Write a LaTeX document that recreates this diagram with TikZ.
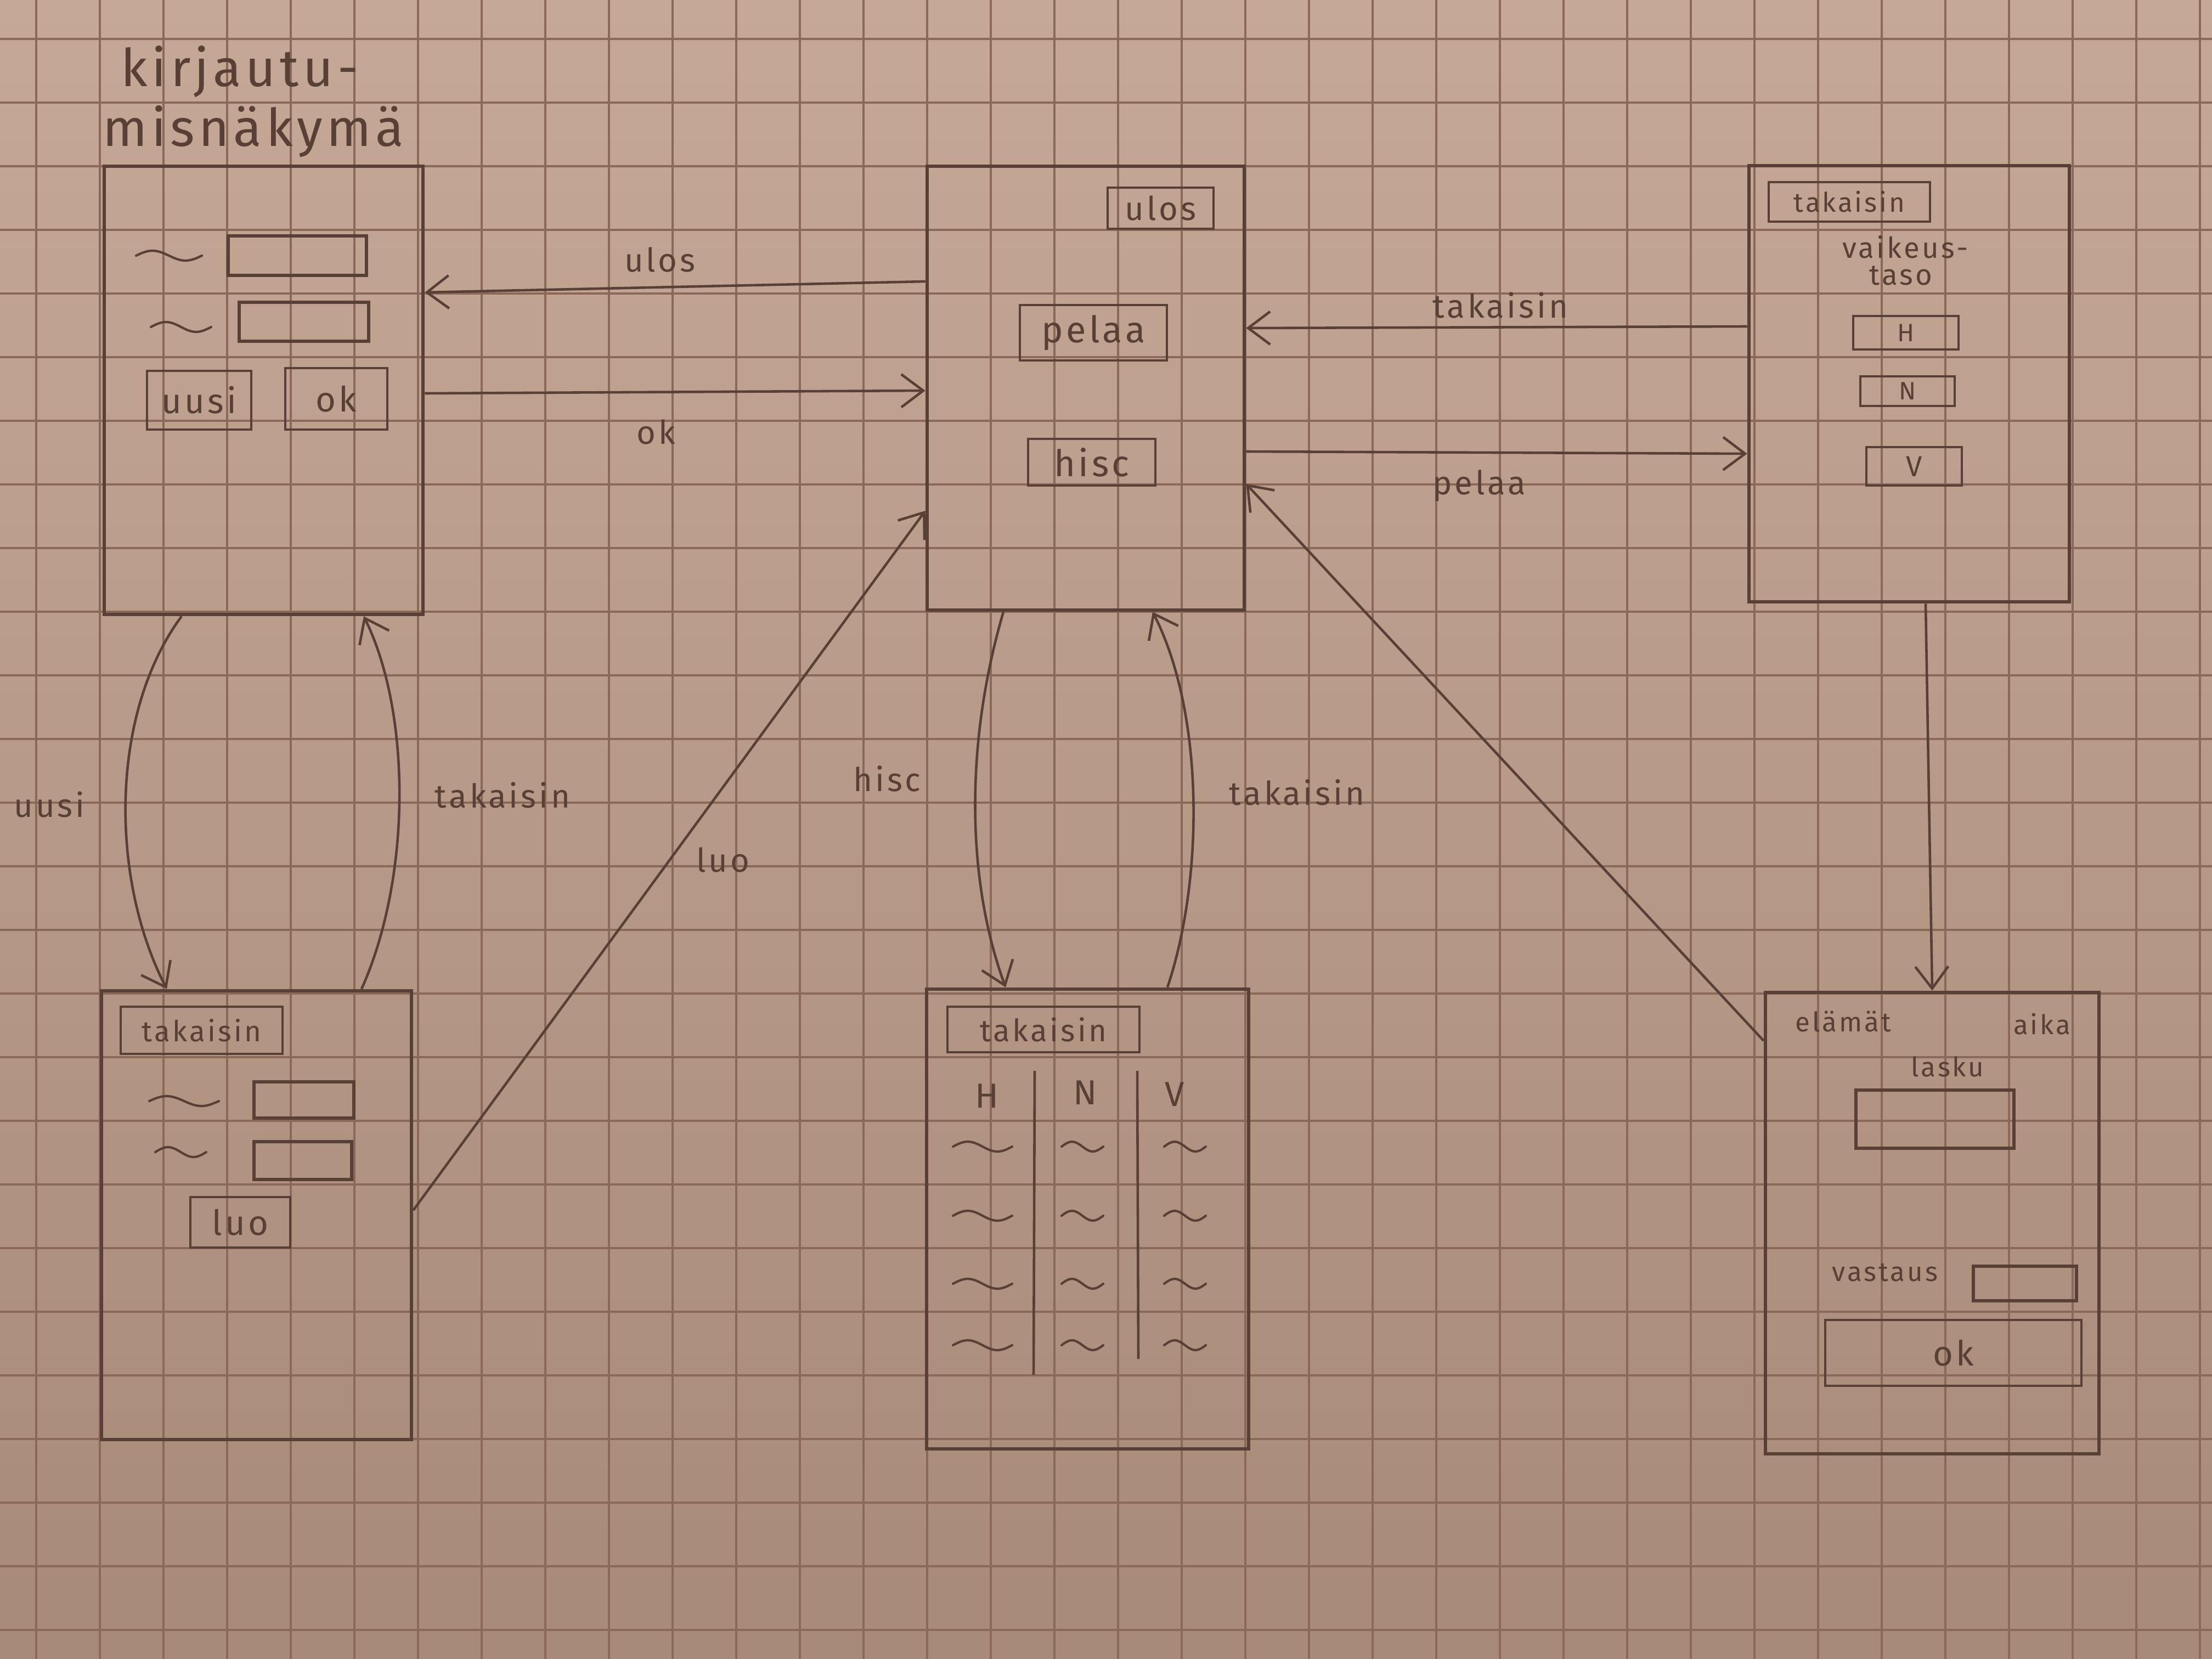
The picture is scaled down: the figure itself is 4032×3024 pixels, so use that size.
\documentclass[tikz,border=0pt]{standalone}
\usepackage{fontspec}
\setmainfont{Fira Sans}[LetterSpace=8]
\usetikzlibrary{arrows.meta,calc}

\definecolor{paperA}{RGB}{198,168,150}
\definecolor{paperB}{RGB}{168,138,120}
\definecolor{gridc}{RGB}{138,105,89}
\definecolor{ink}{RGB}{88,64,54}

\tikzset{
  sz/.style 2 args={minimum width=#1*0.01cm, minimum height=#2*0.01cm},
  fs/.style={font=\fontsize{#1}{#1}\selectfont},
  screen/.style={draw=ink, line width=1.9pt, inner sep=0pt},
  btn/.style={draw=ink, line width=1.3pt, inner sep=0pt, text=ink, fs=16},
  field/.style={draw=ink, line width=1.5pt, inner sep=0pt},
  lbl/.style={text=ink, inner sep=1pt, fs=17},
  txt/.style={text=ink, inner sep=1pt, fs=15},
  conn/.style={draw=ink, line width=1.3pt},
  arr/.style={conn, -{Straight Barb[length=4mm,width=6mm]}},
  squig/.style={draw=ink, line width=1.2pt, line cap=round},
  gridline/.style={draw=gridc, line width=1pt},
}

% a hand-drawn placeholder squiggle: left end x, y, width
\newcommand{\wiggle}[3]{%
  \draw[squig] (#1,#2) sin ++({#3/4},-9) cos ++({#3/4},9) sin ++({#3/4},9) cos ++({#3/4},-9);}

\begin{document}
\begin{tikzpicture}[x=0.01cm, y=-0.01cm]
\useasboundingbox (0,0) rectangle (4032,3024);

% squared paper
\shade[top color=paperA, bottom color=paperB] (0,0) rectangle (4032,3024);
\foreach \i in {0,...,34} \draw[gridline] ({66+116*\i},0) -- ({66+116*\i},3024);
\foreach \j in {0,...,25} \draw[gridline] (0,{71+116*\j}) -- (4032,{71+116*\j});

% ---------- login view ----------
\node[text=ink, align=left, inner sep=0pt,
      font=\fontsize{27}{31}\selectfont] (title) at (462,185)
      {\hspace*{0.35em}kirjautu-\\misnäkymä};
\node[screen, sz={581}{817}] (login) at (480.5,711.5) {};
\wiggle{248}{466}{120}
\node[field, sz={252}{72}] (lf1) at (542,466) {};
\wiggle{275}{596}{110}
\node[field, sz={236}{71}] (lf2) at (554,586.5) {};
\node[btn, sz={190}{107}, fs=18] (luusi) at (363,729.5) {uusi};
\node[btn, sz={186}{112}, fs=18] (lok) at (613,727) {ok};

% ---------- main menu ----------
\node[screen, sz={578}{809}] (mid) at (1979,707.5) {};
\node[btn, sz={193}{75}, fs=17] (mulos) at (2115.5,379.5) {ulos};
\node[btn, sz={268}{101}, fs=19] (mpelaa) at (1993,606.5) {pelaa};
\node[btn, sz={232}{85}, fs=19] (mhisc) at (1990,842.5) {hisc};

% ---------- difficulty view ----------
\node[screen, sz={584}{795}] (diff) at (3480,699.5) {};
\node[btn, sz={294}{72}, fs=14] (dback) at (3371,368) {takaisin};
\node[txt] (dt1) at (3473,450) {vaikeus-};
\node[txt] (dt2) at (3465,502) {taso};
\node[btn, sz={192}{61}, fs=13] (dh) at (3474,606.5) {H};
\node[btn, sz={172}{54}, fs=13] (dn) at (3477,713) {N};
\node[btn, sz={174}{70}, fs=15] (dv) at (3489,850) {V};

% ---------- registration view ----------
\node[screen, sz={565}{818}] (reg) at (467.5,2215) {};
\node[btn, sz={295}{86}, fs=15] (rback) at (367.5,1878) {takaisin};
\wiggle{272}{2007}{127}
\node[field, sz={182}{66}] (rf1) at (554,2005) {};
\wiggle{283}{2100}{93}
\node[field, sz={178}{69}] (rf2) at (552,2115.5) {};
\node[btn, sz={182}{92}, fs=18] (rluo) at (438,2228) {luo};

% ---------- high score view ----------
\node[screen, sz={587}{838}] (hs) at (1982.5,2222) {};
\node[btn, sz={350}{83}, fs=16] (hback) at (1902,1876.5) {takaisin};
\node[txt, fs=18] (hh) at (1799,1998) {H};
\node[txt, fs=18] (hn) at (1978,1992) {N};
\node[txt, fs=18] (hv) at (2141,1995) {V};
\draw[conn] (1886,1952) -- (1884,2506);
\draw[conn] (2073,1952) -- (2075,2477);
\foreach \r in {2090,2216,2340,2452} {
  \wiggle{1737}{\r}{108}
  \wiggle{1935}{\r}{76}
  \wiggle{2122}{\r}{76}
}

% ---------- game view ----------
\node[screen, sz={608}{841}] (game) at (3522,2229.5) {};
\node[txt, fs=14] (gel) at (3360,1862) {elämät};
\node[txt, fs=14] (gaika) at (3722,1867) {aika};
\node[txt, fs=14] (glasku) at (3550,1944) {lasku};
\node[field, sz={288}{106}] (gf1) at (3527,2040) {};
\node[txt, fs=14] (gvast) at (3436,2320) {vastaus};
\node[field, sz={188}{63}] (gf2) at (3691,2339.5) {};
\node[btn, sz={467}{120}, fs=18] (gok) at (3560.5,2466) {ok};

% ---------- transitions ----------
\draw[arr] (mid.west |- 0,513) -- (login.east |- 0,533);
\node[lbl] (aulos) at (1203,473) {ulos};
\draw[arr] (login.east |- 0,717) -- (mid.west |- 0,712);
\node[lbl] (aok) at (1196,787) {ok};

\draw[arr] (diff.west |- 0,595) -- (mid.east |- 0,598);
\node[lbl] (aback1) at (2735,557) {takaisin};
\draw[arr] (mid.east |- 0,823) -- (diff.west |- 0,827);
\node[lbl] (apelaa) at (2696,885) {pelaa};

\draw[arr] (game.west |- 0,1897) -- (mid.east |- 0,882);
\draw[arr] (reg.east |- 0,2206) -- (mid.west |- 0,931);
\node[lbl] (aluo) at (1318,1567) {luo};

\draw[arr] (login.south -| 331,0) .. controls (200,1300) and (200,1600) .. (reg.north -| 304,0);
\node[lbl] (auusi) at (90,1467) {uusi};
\draw[arr] (reg.north -| 659,0) .. controls (750,1600) and (750,1300) .. (login.south -| 663,0);
\node[lbl] (aback2) at (916,1450) {takaisin};

\draw[arr] (mid.south -| 1829,0) .. controls (1760,1350) and (1760,1600) .. (hs.north -| 1833,0);
\node[lbl] (ahisc) at (1617,1420) {hisc};
\draw[arr] (hs.north -| 2128,0) .. controls (2195,1600) and (2195,1300) .. (mid.south -| 2101,0);
\node[lbl] (aback3) at (2364,1445) {takaisin};

\draw[arr] (diff.south -| 3510,0) -- (game.north -| 3522,0);
\end{tikzpicture}
\end{document}
